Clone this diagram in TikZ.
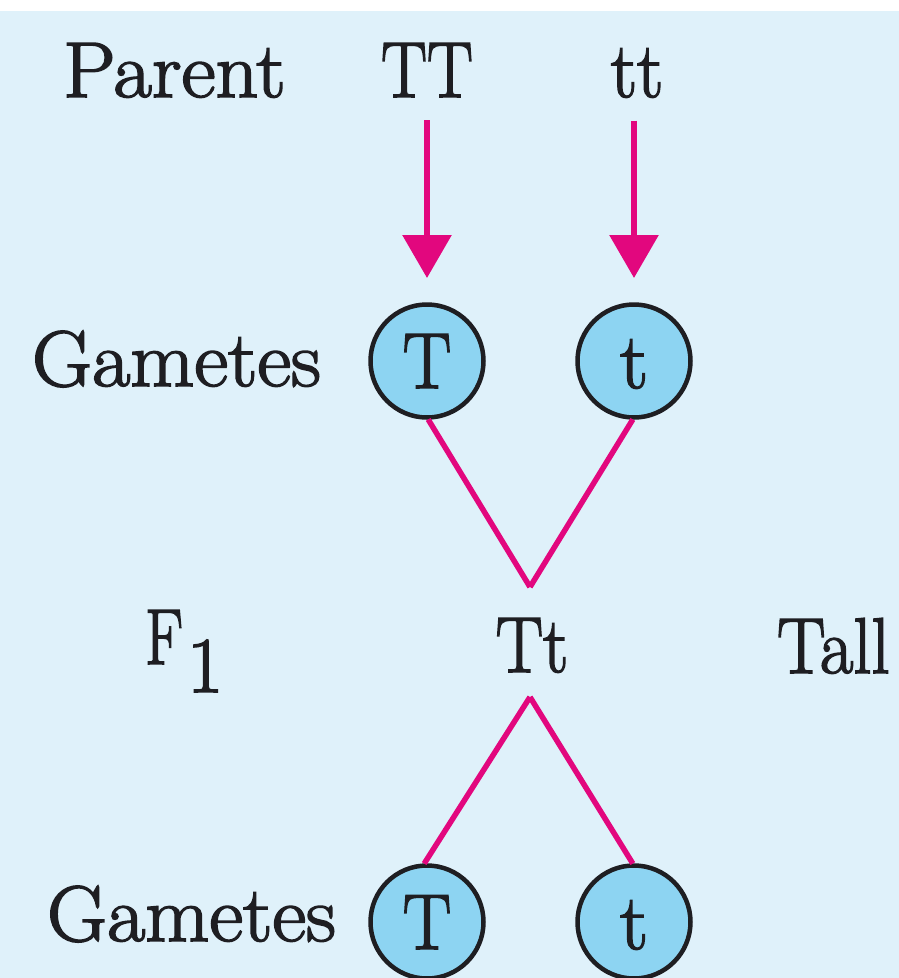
\documentclass[tikz,border=0pt]{standalone}
\usepackage{fontspec}
\newfontfamily\labelfam{lmroman17-regular.otf}[FakeBold=2]
\usetikzlibrary{arrows.meta}
\definecolor{panel}{HTML}{DFF1FA}
\definecolor{gamfill}{HTML}{8DD4F2}
\definecolor{cross}{HTML}{E2077E}
\definecolor{ink}{HTML}{1E1E22}
\newcommand\labelfont{\labelfam\fontsize{79pt}{95pt}\selectfont}
% horizontally scaled label text
\newcommand\narrow[2]{\scalebox{#1}[1]{#2}}

\begin{document}
\begin{tikzpicture}[x=1pt,y=-1pt,
  lbl/.style={inner sep=0pt, outer sep=0pt, font=\labelfont, text=ink},
  gamete/.style={circle, draw=ink, line width=4.5pt, fill=gamfill,
    minimum size=113pt, inner sep=0pt, outer sep=0pt, font=\labelfont,
    text=ink, text height=54pt, text depth=0pt},
  parentarrow/.style={draw=cross, line width=6pt,
    -{Triangle[width=48pt,length=43pt]}},
  crossline/.style={draw=cross, line width=5.5pt, line join=miter}]
  % page and panel
  \useasboundingbox (0,0) rectangle (899,978);
  \fill[white] (0,0) rectangle (899,978);
  \fill[panel] (0,11) rectangle (899,978);

  % parent generation
  \node[lbl, anchor=base west] (parent) at (63,97) {\narrow{1.06}{Parent}};
  \node[lbl, anchor=base] (TT) at (427,97) {\narrow{0.87}{TT}};
  \node[lbl, anchor=base] (tt) at (637,97) {\narrow{0.94}{tt}};

  % first gametes
  \node[lbl, anchor=base west] (gam1) at (32,386) {\narrow{1.05}{Gametes}};
  \node[gamete] (g1T) at (427,361) {\narrow{0.92}{T}};
  \node[gamete] (g1t) at (634,361) {t};

  % F1 generation
  \node[lbl, anchor=base west] (F1) at (145,664) {\narrow{0.8}{F}\kern4pt\raisebox{-28pt}{1}};
  \node[lbl, anchor=base] (Tt) at (532,672) {\narrow{0.9}{Tt}};
  \node[lbl, anchor=base west] (tall) at (777,673) {\narrow{0.92}{Tall}};

  % gametes of the hybrid
  \node[lbl, anchor=base west] (gam2) at (47,941) {\narrow{1.05}{Gametes}};
  \node[gamete] (g2T) at (427,922) {\narrow{0.92}{T}};
  \node[gamete] (g2t) at (634,922) {t};

  % crossing points
  \coordinate (v1) at (530,587);
  \coordinate (v2) at (530,697);

  % parents to gametes
  \draw[parentarrow, shorten <=23pt, shorten >=26.5pt] (TT.south) -- (g1T.north);
  \draw[parentarrow, shorten <=23pt, shorten >=26.5pt] (tt.south -| g1t) -- (g1t.north);

  % fertilisation and segregation
  \draw[crossline, shorten <=2.25pt] (g1T.south) -- (v1);
  \draw[crossline, shorten <=2.25pt] (g1t.south) -- (v1);
  \draw[crossline, shorten <=2.25pt] ([xshift=-4pt]g2T.north) -- (v2);
  \draw[crossline, shorten <=2.25pt] (g2t.north) -- (v2);
\end{tikzpicture}
\end{document}
